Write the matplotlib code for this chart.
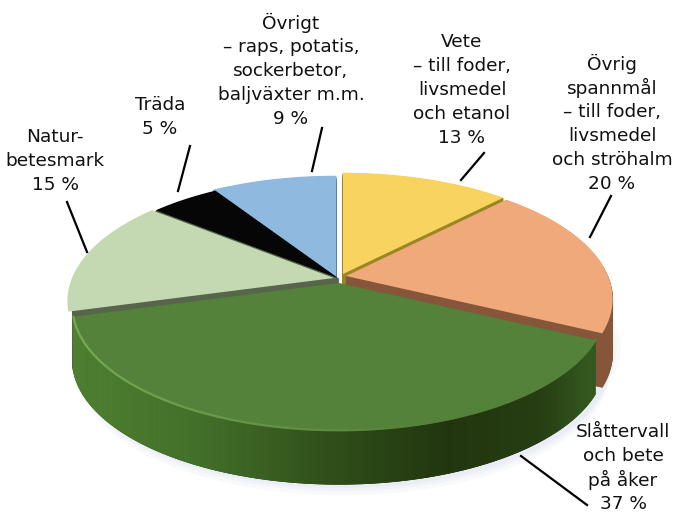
import matplotlib
matplotlib.use('Agg')
import matplotlib.pyplot as plt
from matplotlib.colors import to_rgb
import numpy as np

# andel av arealen, medurs fran klockan tolv
values = [13, 20, 37, 15, 5, 9]
names = [
    ['Vete', '– till foder,', 'livsmedel', 'och etanol'],
    ['Övrig', 'spannmål', '– till foder,', 'livsmedel', 'och ströhalm'],
    ['Slåttervall', 'och bete', 'på åker'],
    ['Natur-', 'betesmark'],
    ['Träda'],
    ['Övrigt', '– raps, potatis,', 'sockerbetor,', 'baljväxter m.m.'],
]
top_colors = ['#f9d35f', '#efa97b', '#55823a', '#c4d9b1', '#060606', '#90b9df']
side_colors = ['#9a8622', '#85563a', '#2e4d18', '#56654b', '#000000', '#5f7f9f']
offsets = [(2, -1), (5, 1), (-2, 8), (-7, 3), (-3, 3), (-5, 2)]

# textblockens mitt (x), forsta radens y, samt strecket till sektorn
label_x = [462, 612, 623, 55, 160, 291]
label_y = [42, 64, 432, 137, 105, 23]
leaders = [
    ((484, 153), (461, 180)),
    ((611, 196), (590, 237)),
    ((521, 456), (587, 505)),
    ((67, 202), (87, 252)),
    ((190, 146), (178, 191)),
    ((322, 128), (312, 171)),
]

cx, cy = 341, 275
R, B, k = 262, 120, 0.185
warp = 0.08
depth = 54
line_h = 24


def project(theta, r=1.0):
    # cirkeln i pajens plan med enkel perspektivdivision
    # hogra halvan dras lite bakat
    t = theta - warp * np.clip(np.sin(theta), 0, None)
    u = r * np.sin(t)
    v = r * np.cos(t)
    d = 1 + k * v
    return cx + R * u / d, cy - B * v / d


def wedge(a0, a1, off):
    t = np.linspace(a0, a1, 120)
    x, y = project(t)
    x = np.concatenate([[cx], x]) + off[0]
    y = np.concatenate([[cy], y]) + off[1]
    return x, y


fig = plt.figure(figsize=(6.75, 5.12), dpi=100)
ax = fig.add_axes([0, 0, 1, 1])
ax.set_xlim(0, 675)
ax.set_ylim(512, 0)
ax.axis('off')

fracs = np.array(values) / sum(values)
edges = np.concatenate([[0], np.cumsum(fracs)]) * 2 * np.pi

# svag skugga under pajen
all_t = np.linspace(0, 2 * np.pi, 360)
sx, sy = project(all_t)
for grow, alpha in [(9, 0.25), (5, 0.35), (2, 0.5)]:
    ax.fill(sx + 2, sy + depth + 10 + grow, color='#e4e9f3', alpha=alpha, lw=0, zorder=1)
    ax.fill(sx + 4 + grow, sy + depth - 4, color='#e4eff3', alpha=alpha, lw=0, zorder=1)
ax.fill(sx, sy + 30, color='white', lw=0, zorder=1)

# bakre sektorer forst, den stora grona sist
order = [5, 4, 0, 3, 1, 2]
z = 2
for i in order:
    x, y = wedge(edges[i], edges[i + 1], offsets[i])
    # naturbetets sida syns bara som en smal kant innanfor hornet
    shift = 5 if i == 3 else 0
    for d in np.arange(depth + 6 if i == 3 else depth, 0, -1.0):
        ax.fill(x + shift, y + d, color=side_colors[i], lw=0.6, zorder=z)
    z += 1
    if i == 2:
        # sidan morknar fran vanster mot hoger
        stop_x = [75, 200, 340, 450, 540, 590]
        stops = [to_rgb(c) for c in ['#4f8030', '#43702a', '#2e4d18', '#22350f', '#263d12', '#34591f']]
        t = np.linspace(edges[i], edges[i + 1], 200)
        rx, ry = project(t)
        rx = rx + offsets[i][0]
        ry = ry + offsets[i][1]
        for j in range(len(t) - 1):
            col = [np.interp(rx[j], stop_x, [s[c] for s in stops]) for c in range(3)]
            ax.fill([rx[j], rx[j + 1], rx[j + 1], rx[j]],
                    [ry[j], ry[j + 1], ry[j + 1] + depth, ry[j] + depth],
                    color=col, lw=0.5, zorder=z)
    ax.fill(x, y, color=top_colors[i], lw=0, zorder=z + 1)
    if i == 2:
        # ljus kant langs framkanten, avtar at hoger
        for j in range(len(t) - 1):
            fade = np.clip((rx[j] - 90) / 330, 0, 1)
            col = np.array(to_rgb('#74a651')) * (1 - fade) + np.array(to_rgb('#55823a')) * fade
            ax.plot(rx[j:j + 2], ry[j:j + 2], color=col, lw=1.6, zorder=z + 2,
                    solid_capstyle='round')
    z += 3

plt.rcParams['font.family'] = ['DejaVu Sans']
for i in range(len(values)):
    rows = names[i] + ['%d %%' % values[i]]
    for n, row in enumerate(rows):
        ax.text(label_x[i], label_y[i] + n * line_h, row, ha='center', va='center',
                fontsize=13.3, color='#111111', zorder=50, clip_on=False)
    p0, p1 = leaders[i]
    ax.plot([p0[0], p1[0]], [p0[1], p1[1]], color='black', lw=1.6, zorder=49)

fig.savefig('out.png', dpi=100, facecolor='white')
